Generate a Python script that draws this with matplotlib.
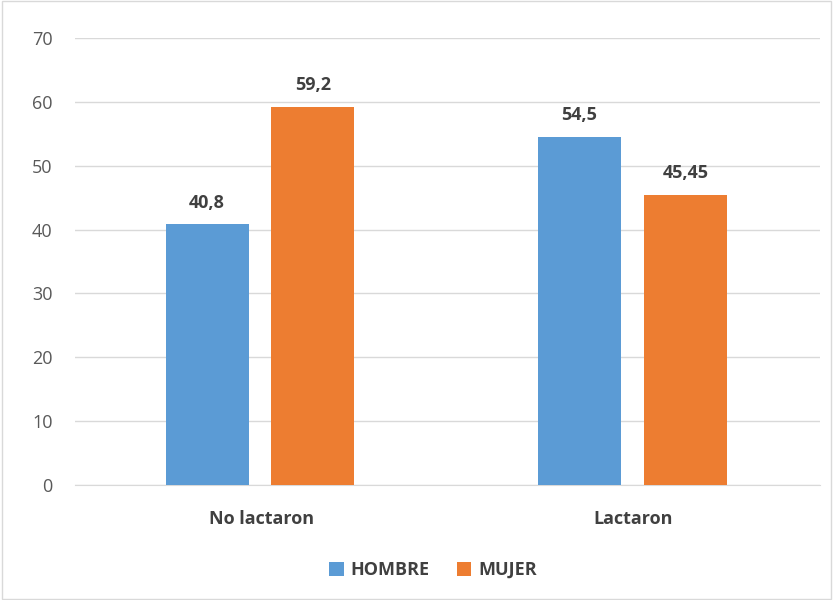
import matplotlib.pyplot as plt
import numpy as np

plt.rcParams['font.family'] = ['Open Sans', 'DejaVu Sans']

# --- Data ---
categories = ['No lactaron', 'Lactaron']
series_names = ['HOMBRE', 'MUJER']
hombre = [40.8, 54.5]
mujer = [59.2, 45.45]
value_labels = [['40,8', '54,5'], ['59,2', '45,45']]
colors = ['#5B9BD5', '#ED7D31']

fig = plt.figure(figsize=(8.33, 6), dpi=100)
ax = fig.add_axes([0.09, 0.1917, 0.894, 0.745])

x = np.arange(len(categories))
width = 0.223
offset = 0.142

for i, (vals, name) in enumerate(zip([hombre, mujer], series_names)):
    pos = x + (offset if i else -offset) - 0.003
    ax.bar(pos, vals, width=width, color=colors[i], label=name, zorder=3)
    for px, v, lab in zip(pos, vals, value_labels[i]):
        ax.text(px, v + 2.0, lab, ha='center', va='bottom', fontsize=13,
                fontweight='bold', color='#404040')

ax.set_xlim(-0.5, 1.5)
ax.set_ylim(0, 70)
ax.set_yticks(range(0, 71, 10))
ax.set_xticks(x)
ax.set_xticklabels(categories, fontsize=13, fontweight='bold', color='#404040')
ax.tick_params(axis='y', labelsize=13, labelcolor='#595959', length=0, pad=16)
ax.tick_params(axis='x', length=0, pad=18)
ax.grid(axis='y', color='#D9D9D9', linewidth=1, zorder=0)
for s in ['top', 'right', 'left']:
    ax.spines[s].set_visible(False)
ax.spines['bottom'].set_color('#D9D9D9')

fig.legend(loc='center', bbox_to_anchor=(0.52, 0.05), ncol=2, frameon=False,
           prop={'size': 13, 'weight': 'bold'}, handlelength=0.8, handleheight=0.8,
           columnspacing=1.5, handletextpad=0.4, labelcolor='#404040')

# figure border
fig.patches.append(plt.Rectangle((0.002, 0.002), 0.996, 0.996, transform=fig.transFigure,
                                 fill=False, edgecolor='#D9D9D9', linewidth=1))

plt.savefig('out.png')
